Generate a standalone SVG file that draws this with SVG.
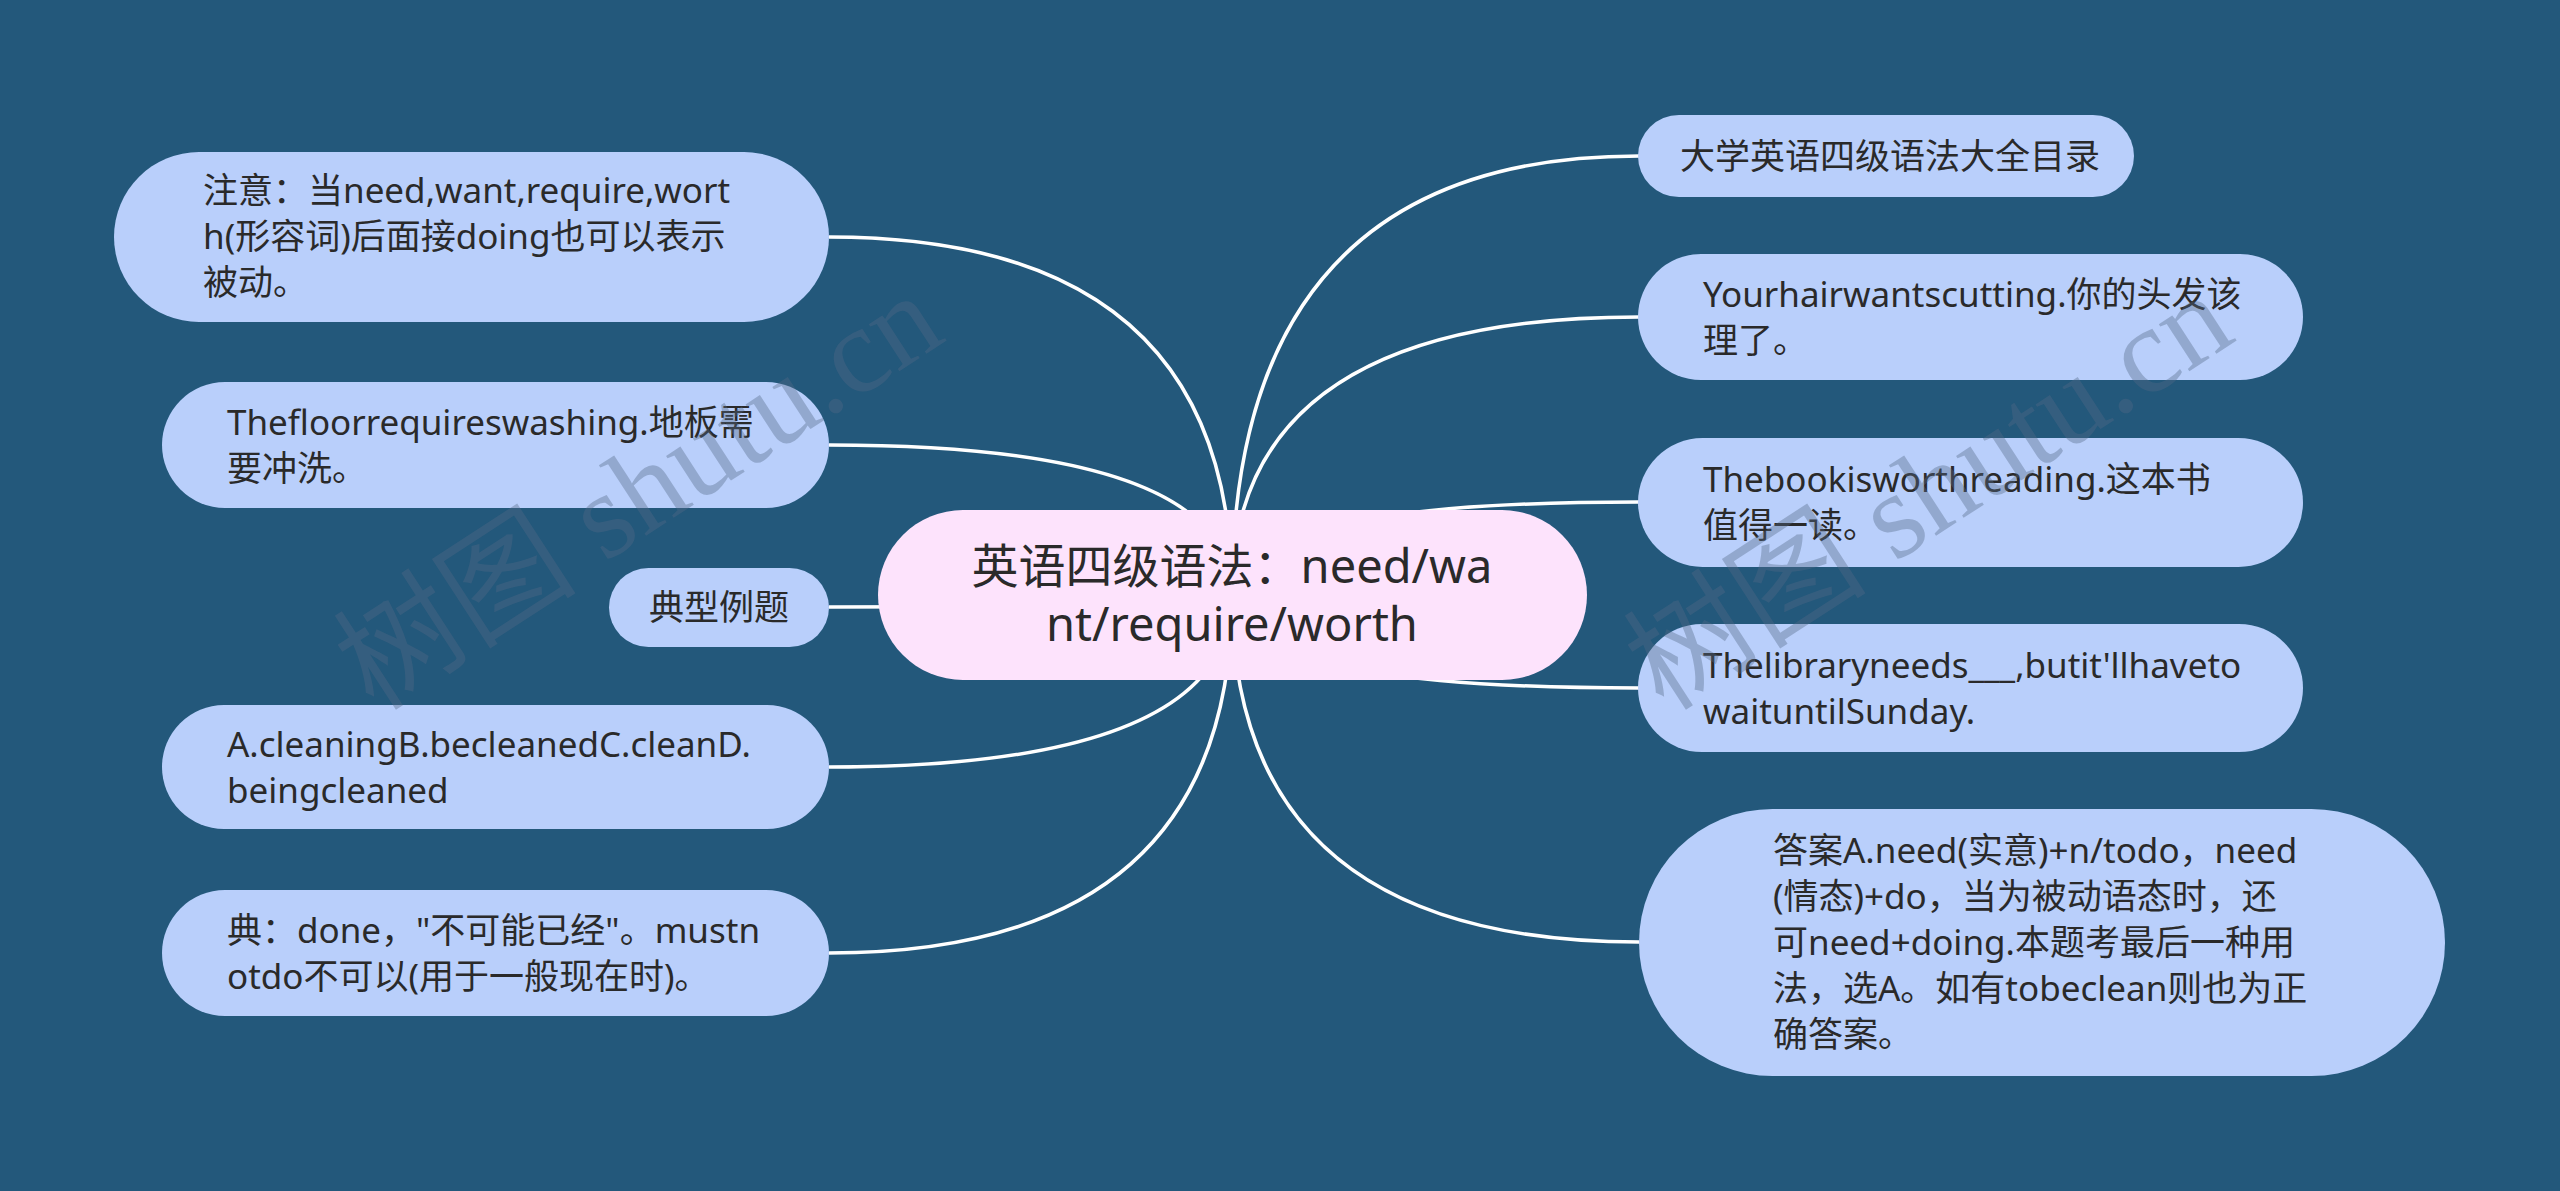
<svg xmlns="http://www.w3.org/2000/svg" width="2560" height="1191" viewBox="0 0 2560 1191">
<style>
.bg{fill:#23587b}
.n{fill:#b9cffb}
.c{fill:#fde3fc}
.t{font-family:"Noto Sans","Noto Sans CJK SC",sans-serif;font-size:35px;fill:#2a2a2a}
.ct{font-family:"Noto Sans","Noto Sans CJK SC",sans-serif;font-size:47px;fill:#2a2a2a;text-anchor:middle}
.e{fill:none;stroke:#ffffff;stroke-width:3.5}
.wm{font-family:"Liberation Serif","Noto Sans CJK SC",serif;font-size:122px;fill:#536887;fill-opacity:0.38;text-anchor:middle}
</style>
<rect class="bg" x="0" y="0" width="2560" height="1191"/>
<g id="connectors">
<path class="e" d="M1232 595 Q1232 237 829 237"/>
<path class="e" d="M1232 595 Q1232 445 829 445"/>
<path class="e" d="M1232 595 Q1232 607 829 607"/>
<path class="e" d="M1232 595 Q1232 767 829 767"/>
<path class="e" d="M1232 595 Q1232 953 829 953"/>
<path class="e" d="M1232 595 Q1232 156 1639 156"/>
<path class="e" d="M1232 595 Q1232 317 1639 317"/>
<path class="e" d="M1232 595 Q1232 502 1639 502"/>
<path class="e" d="M1232 595 Q1232 688 1639 688"/>
<path class="e" d="M1232 595 Q1232 942 1639 942"/>
</g>
<g id="center">
<rect class="c" x="878" y="510" width="709" height="170" rx="85"/>
<text class="ct" x="1232" y="583">英语四级语法：need/wa</text>
<text class="ct" x="1232" y="641">nt/require/worth</text>
</g>
<g id="n1">
<rect class="n" x="114" y="152" width="715" height="170" rx="85"/>
<text class="t" x="203" y="203">注意：当need,want,require,wort</text>
<text class="t" x="203" y="249">h(形容词)后面接doing也可以表示</text>
<text class="t" x="203" y="295">被动。</text>
</g>
<g id="n2">
<rect class="n" x="162" y="382" width="667" height="126" rx="63"/>
<text class="t" x="227" y="435">Thefloorrequireswashing.地板需</text>
<text class="t" x="227" y="481">要冲洗。</text>
</g>
<g id="n3">
<rect class="n" x="609" y="568" width="220" height="79" rx="39.5"/>
<text class="t" x="719" y="620" text-anchor="middle">典型例题</text>
</g>
<g id="n4">
<rect class="n" x="162" y="705" width="667" height="124" rx="62"/>
<text class="t" x="227" y="757">A.cleaningB.becleanedC.cleanD.</text>
<text class="t" x="227" y="803">beingcleaned</text>
</g>
<g id="n5">
<rect class="n" x="162" y="890" width="667" height="126" rx="63"/>
<text class="t" x="227" y="943">典：done，"不可能已经"。mustn</text>
<text class="t" x="227" y="989">otdo不可以(用于一般现在时)。</text>
</g>
<g id="n6">
<rect class="n" x="1638" y="115" width="496" height="82" rx="41"/>
<text class="t" x="1680" y="169">大学英语四级语法大全目录</text>
</g>
<g id="n7">
<rect class="n" x="1638" y="254" width="665" height="126" rx="63"/>
<text class="t" x="1703" y="307">Yourhairwantscutting.你的头发该</text>
<text class="t" x="1703" y="353">理了。</text>
</g>
<g id="n8">
<rect class="n" x="1638" y="438" width="665" height="129" rx="64.5"/>
<text class="t" x="1703" y="492">Thebookisworthreading.这本书</text>
<text class="t" x="1703" y="538">值得一读。</text>
</g>
<g id="n9">
<rect class="n" x="1638" y="624" width="665" height="128" rx="64"/>
<text class="t" x="1703" y="678">Thelibraryneeds___,butit'llhaveto</text>
<text class="t" x="1703" y="724">waituntilSunday.</text>
</g>
<g id="n10">
<rect class="n" x="1639" y="809" width="806" height="267" rx="133.5"/>
<text class="t" x="1773" y="863">答案A.need(实意)+n/todo，need</text>
<text class="t" x="1773" y="909">(情态)+do，当为被动语态时，还</text>
<text class="t" x="1773" y="955">可need+doing.本题考最后一种用</text>
<text class="t" x="1773" y="1001">法，选A。如有tobeclean则也为正</text>
<text class="t" x="1773" y="1047">确答案。</text>
</g>
<g id="watermark">
<text class="wm" transform="translate(661 526) rotate(-33)">树图 shutu.cn</text>
<text class="wm" transform="translate(1951 526) rotate(-33)">树图 shutu.cn</text>
</g>
</svg>
